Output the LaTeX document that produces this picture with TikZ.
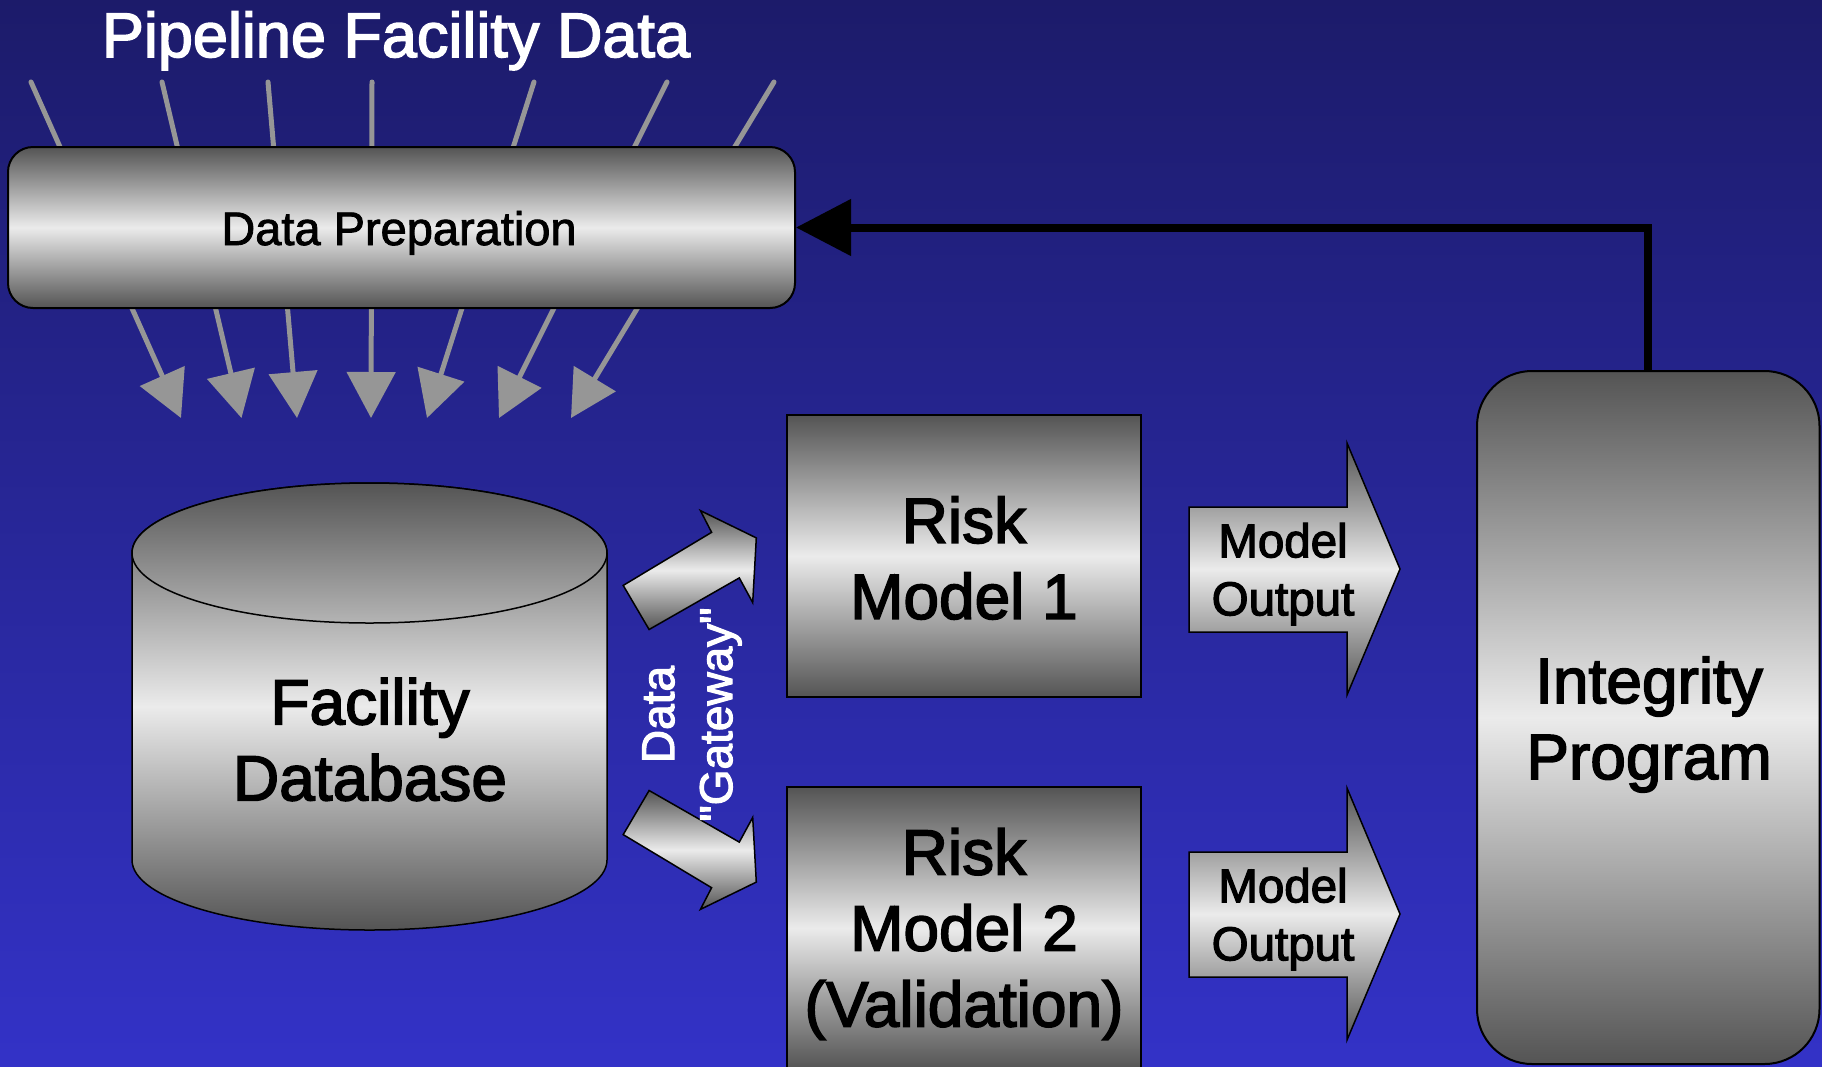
\documentclass[tikz,border=0pt]{standalone}
\usepackage{fontspec}
\setmainfont{Liberation Sans}
\newfontfamily\heavyfont[FakeBold=2.5]{Liberation Sans}
\newfontfamily\mediumfont[FakeBold=1.8]{Liberation Sans}
\usetikzlibrary{arrows.meta}

\definecolor{bgtop}{RGB}{28,27,106}
\definecolor{bgbot}{RGB}{51,50,199}
\definecolor{tubedark}{RGB}{84,84,84}
\definecolor{tubelight}{RGB}{235,235,235}
\definecolor{feedgray}{RGB}{150,150,150}
\definecolor{captop}{RGB}{180,180,180}

% metallic "tube" look: dark at both edges, light in the middle
\pgfdeclareverticalshading{tube}{100bp}{color(0bp)=(tubedark); color(25bp)=(tubedark);
  color(50bp)=(tubelight); color(75bp)=(tubedark); color(100bp)=(tubedark)}

\begin{document}
\begin{tikzpicture}[x=1pt,y=-1pt,
  metal/.style={shade, shading=tube, draw=black, line width=1.5pt},
  panel/.style={metal, rectangle, inner sep=0pt, line width=2pt},
  bigtext/.style={font=\heavyfont\fontsize{64}{76}\selectfont, align=center, text=black},
  smalltext/.style={font=\heavyfont\fontsize{47.5}{58}\selectfont, align=center, text=black},
  datafeed/.style={draw=feedgray, line width=5pt, line cap=round,
    -{Triangle[length=46pt,width=48pt]}},
  loopback/.style={draw=black, line width=8pt, -{Triangle[length=55pt,width=55pt]}}]

% page and background
\useasboundingbox (0,0) rectangle (1822,1066);
\clip (0,0) rectangle (1822,1066);
\fill[top color=bgtop, bottom color=bgbot] (0,0) rectangle (1822,1066);

% title
\node[text=white, font=\heavyfont\fontsize{63}{76}\selectfont, anchor=base] (title)
  at (396,57) {Pipeline Facility Data};

% incoming data lines, passing behind the preparation box
\coordinate (in1) at (31,82);   \coordinate (out1) at (181,418);
\coordinate (in2) at (162,82);  \coordinate (out2) at (241.5,418);
\coordinate (in3) at (268,82);  \coordinate (out3) at (297,418);
\coordinate (in4) at (372,82);  \coordinate (out4) at (371,418);
\coordinate (in5) at (534,82);  \coordinate (out5) at (427,418);
\coordinate (in6) at (667,82);  \coordinate (out6) at (499,418);
\coordinate (in7) at (774,82);  \coordinate (out7) at (571,418);
\foreach \i in {1,...,7} \draw[datafeed] (in\i) -- (out\i);

% data preparation
\node[panel, rounded corners=25pt, minimum width=787pt, minimum height=161pt] (prep)
  at (401.5,227.5) {};
\node[font=\mediumfont\fontsize{47}{56}\selectfont, anchor=base] (preptext)
  at (399,245) {Data Preparation};

% facility database cylinder
\path[metal] (132,553) -- (132,860)
  arc[start angle=180, end angle=360, x radius=237.5pt, y radius=70pt]
  -- (607,553)
  arc[start angle=0, end angle=180, x radius=237.5pt, y radius=70pt] -- cycle;
\path[draw=black, line width=1.5pt, top color=tubedark, bottom color=captop]
  (369.5,553) ellipse[x radius=237.5pt, y radius=70pt];
\node[bigtext] (db) at (370,739.5) {Facility\\Database};

% data gateway arrows
\path[metal] (623.2,585.4) -- (711.6,532.3) -- (700.4,510.6) -- (756.3,537.9)
  -- (752.7,602.6) -- (739.3,577.9) -- (649.1,629.5) -- cycle;
\path[metal] (623.2,834.6) -- (711.6,887.7) -- (700.4,909.4) -- (756.3,882.1)
  -- (752.7,817.4) -- (739.3,842.1) -- (649.1,790.5) -- cycle;
\node[text=white, font=\heavyfont\fontsize{46}{58}\selectfont, align=center, rotate=90]
  (gate) at (692,714.5) {Data\\"Gateway"};

% risk models
\node[panel, minimum width=354pt, minimum height=282pt] (risk1) at (964,556) {};
\node[bigtext] (risk1text) at (964,558) {Risk\\Model 1};
\node[panel, minimum width=354pt, minimum height=282pt] (risk2) at (964,928) {};
\node[bigtext] (risk2text) at (964,934) {Risk\\Model 2\\(Validation)};

% model output arrows
\path[metal] (1189,507) -- (1347,507) -- (1347,443) -- (1400,569) -- (1347,695)
  -- (1347,632) -- (1189,632) -- cycle;
\node[smalltext] (out1text) at (1283,574) {Model\\Output};
\path[metal] (1189,852) -- (1347,852) -- (1347,788) -- (1400,914) -- (1347,1040)
  -- (1347,977) -- (1189,977) -- cycle;
\node[smalltext] (out2text) at (1283,919) {Model\\Output};

% integrity program
\node[panel, rounded corners=55pt, minimum width=342.5pt, minimum height=693pt] (integ)
  at (1648.25,717.5) {};
\node[bigtext] (integtext) at (1649,724.5) {Integrity\\Program};

% feedback to data preparation
\draw[loopback] (integ.north) |- (prep.east);

\end{tikzpicture}
\end{document}
